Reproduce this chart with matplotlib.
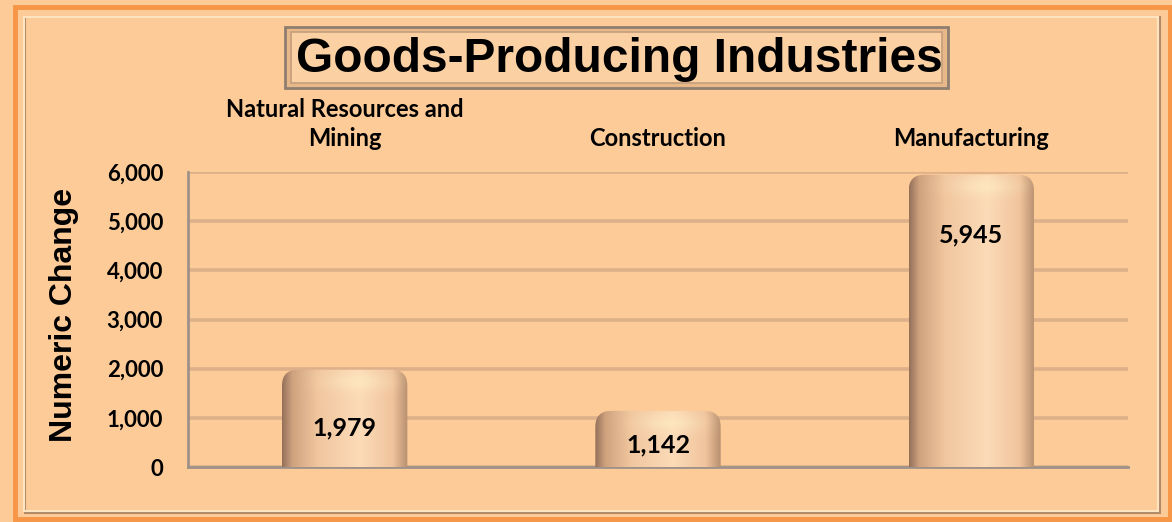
import matplotlib.pyplot as plt
import numpy as np
from matplotlib.patches import Rectangle, FancyBboxPatch
from matplotlib.colors import to_rgb

categories = ["Natural Resources and\nMining", "Construction", "Manufacturing"]
values = [1979, 1142, 5945]
yticks = [0, 1000, 2000, 3000, 4000, 5000, 6000]

W, H = 1172, 522
bg = "#FDCB98"

fig = plt.figure(figsize=(W / 100, H / 100), dpi=100)
fig.patch.set_facecolor(bg)

def px(x, y):
    return x / W, 1 - y / H

# outer frame and bevel
fig.patches.append(Rectangle(px(15, 519), 1155 / W, 512 / H, transform=fig.transFigure,
                             facecolor="none", edgecolor="#F79646", lw=3.5))
fig.patches.append(Rectangle(px(25, 513), 1135 / W, 496 / H, transform=fig.transFigure,
                             facecolor="none", edgecolor="#B08A68", lw=1.5))
fig.patches.append(Rectangle(px(24, 511), 1134 / W, 494 / H, transform=fig.transFigure,
                             facecolor="none", edgecolor="#FFE4C2", lw=1.5))

ax = fig.add_axes([188 / W, 1 - 467 / H, 940 / W, 295 / H])
ax.set_facecolor(bg)
x = np.arange(len(categories))
bars = ax.bar(x, values, width=0.4, color="none", zorder=3)
ax.set_xlim(-0.5, len(categories) - 0.5)
ax.set_ylim(0, 6000)

# data units per pixel
ux = len(categories) / 940
uy = 6000 / 295

stops = [0.0, 0.08, 0.28, 0.62, 0.88, 1.0]
cols = ["#94705A", "#CFA27E", "#F0C69E", "#FCDBB8", "#F0C49C", "#B89070"]
cols = np.array([to_rgb(c) for c in cols])
t = np.linspace(0, 1, 200)
prof = np.stack([np.interp(t, stops, cols[:, k]) for k in range(3)], axis=-1)

for b, v in zip(bars, values):
    bx, bw = b.get_x(), b.get_width()
    hpx = v / uy
    rows = np.arange(int(hpx))
    # soft highlight band near the top of each bar
    glow = np.exp(-((rows - 12) / 9.0) ** 2)[:, None]
    cx = np.exp(-((t - 0.6) / 0.25) ** 2)[None, :]
    light = (glow * cx * 0.45)[:, :, None]
    img = prof[None, :, :] * (1 - light) + light * np.array([1.0, 0.95, 0.78])
    img = np.clip(img, 0, 1)
    r = 16 * ux
    clip = FancyBboxPatch((bx, -400), bw, v + 400,
                          boxstyle=f"round,pad=0,rounding_size={r}",
                          mutation_aspect=uy / ux, transform=ax.transData,
                          facecolor="none", edgecolor="none")
    ax.add_patch(clip)
    im = ax.imshow(img, extent=[bx, bx + bw, 0, v], aspect="auto", zorder=3,
                   interpolation="bilinear")
    im.set_clip_path(clip)
    off = min(60, hpx * 0.6)
    ax.annotate(f"{v:,}", (bx + bw / 2, v), xytext=(0, -off * 0.72),
                textcoords="offset points", ha="center", va="center",
                fontsize=18, fontweight="bold", family="Lato", zorder=5)
ax.set_aspect("auto")
ax.set_xlim(-0.5, len(categories) - 0.5)
ax.set_ylim(0, 6000)

ax.set_yticks(yticks)
ax.set_yticklabels([f"{v:,}" for v in yticks], fontsize=16, fontweight="bold", family="Lato")
ax.tick_params(axis="y", length=0, pad=18)
ax.xaxis.tick_top()
ax.set_xticks(x)
ax.set_xticklabels(categories, fontsize=17, fontweight="bold", family="Lato",
                   linespacing=1.3)
ax.tick_params(axis="x", length=0, pad=16)
ax.grid(axis="y", color="#DDB08A", lw=2.6, zorder=1)
ax.set_axisbelow(True)
for s in ["top", "right"]:
    ax.spines[s].set_visible(False)
for s in ["left", "bottom"]:
    ax.spines[s].set_color("#9E9189")
    ax.spines[s].set_linewidth(2)

fig.text(*px(64, 315), "Numeric Change", rotation=90, ha="center", va="center",
         fontsize=23, fontweight="bold", family="Liberation Sans")

# title box
fig.patches.append(Rectangle(px(285, 88), 663 / W, 61 / H, transform=fig.transFigure,
                             facecolor="#E9B889", edgecolor="#8E7E70", lw=2))
fig.patches.append(Rectangle(px(291, 83), 651 / W, 51 / H, transform=fig.transFigure,
                             facecolor="#FBD0A3", edgecolor="#C39E7C", lw=1.2))
fig.text(*px(619, 60), "Goods-Producing Industries", ha="center", va="center",
         fontsize=34.5, fontweight="bold", family="Liberation Sans")

fig.savefig("out.png", dpi=100, facecolor=bg)
